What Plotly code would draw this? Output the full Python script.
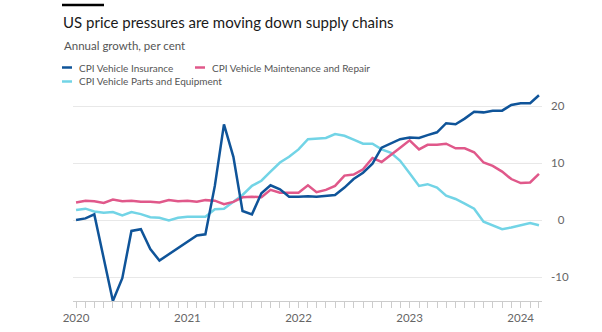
import plotly.graph_objects as go
import pandas as pd

months = pd.date_range("2020-01-01", periods=51, freq="MS")

insurance = [0.0, 0.3, 1.0, -6.5, -14.2, -10.2, -1.9, -1.6, -5.1, -7.1,
             -6.0, -5.0, -3.8, -2.7, -2.5, 6.0, 16.8, 11.1, 1.6, 1.0,
             4.7, 6.1, 5.4, 4.1, 4.1, 4.2, 4.1, 4.2, 4.4, 5.7,
             7.2, 8.3, 9.9, 12.7, 13.4, 14.2, 14.5, 14.4, 14.9, 15.4,
             17.0, 16.8, 17.8, 19.0, 18.9, 19.2, 19.2, 20.2, 20.5, 20.5,
             21.9]
maintenance = [3.1, 3.4, 3.3, 3.0, 3.6, 3.3, 3.4, 3.2, 3.2, 3.1,
               3.5, 3.3, 3.4, 3.2, 3.5, 3.4, 2.8, 3.2, 4.0, 4.1,
               4.0, 5.3, 4.8, 4.8, 4.8, 6.1, 4.9, 5.3, 6.0, 7.8,
               8.0, 8.9, 10.9, 10.2, 11.4, 12.7, 14.0, 12.4, 13.2, 13.2,
               13.4, 12.6, 12.6, 11.9, 10.1, 9.5, 8.5, 7.2, 6.5, 6.6,
               8.1]
parts = [1.75, 2.0, 1.5, 1.3, 1.4, 0.8, 1.4, 1.05, 0.5, 0.4,
         -0.05, 0.4, 0.6, 0.6, 0.6, 1.9, 2.0, 3.2, 4.4, 6.0,
         6.9, 8.5, 10.1, 11.1, 12.4, 14.2, 14.3, 14.4, 15.1, 14.8,
         14.1, 13.4, 13.4, 12.4, 11.8, 10.4, 8.2, 6.0, 6.3, 5.7,
         4.3, 3.7, 2.9, 2.0, -0.3, -1.0, -1.6, -1.3, -0.9, -0.5,
         -0.9]

series_names = ["CPI Vehicle Insurance", "CPI Vehicle Maintenance and Repair",
                "CPI Vehicle Parts and Equipment"]
series_values = [insurance, maintenance, parts]
colors = ["#0f5499", "#e0588a", "#72d4e6"]

y_tickvals = [-10, 0, 10, 20]
y_ticktext = ["-10", "\u20070", "10", "20"]
x_tickvals = ["2020-01-01", "2021-01-01", "2022-01-01", "2023-01-01", "2024-01-01"]
x_ticktext = ["2020", "2021", "2022", "2023", "2024"]

title = "US price pressures are moving down supply chains"
subtitle = "Annual growth, per cent"

W, H = 602, 332
L, R, T, B = 73, 60, 89, 31
PW, PH = W - L - R, H - T - B

def px(x):
    return (x - L) / PW

def py(y):
    return 1 - (y - T) / PH

FONT = "Lato"

fig = go.Figure()
# draw order: parts, maintenance, insurance on top
for idx in [2, 1, 0]:
    fig.add_trace(go.Scatter(x=months, y=series_values[idx], mode="lines",
                             line=dict(color=colors[idx], width=2.5),
                             name=series_names[idx], showlegend=False))

shapes = [dict(type="line", xref="paper", yref="paper",
               x0=px(62), x1=px(104), y0=py(5), y1=py(5),
               line=dict(color="#000000", width=2.5))]
annotations = [
    dict(text=title, xref="paper", yref="paper", x=px(61), y=py(21.5),
         xanchor="left", yanchor="middle", showarrow=False,
         font=dict(family=FONT, size=15, color="#1a1a1a")),
    dict(text=subtitle, xref="paper", yref="paper", x=px(62), y=py(45.5),
         xanchor="left", yanchor="middle", showarrow=False,
         font=dict(family=FONT, size=11.5, color="#555555")),
]
legend_pos = [(62, 67.5), (195, 67.5), (62, 81.5)]
for name, col, (lx, ly) in zip(series_names, colors, legend_pos):
    shapes.append(dict(type="line", xref="paper", yref="paper",
                       x0=px(lx), x1=px(lx + 10), y0=py(ly), y1=py(ly),
                       line=dict(color=col, width=2.5)))
    annotations.append(dict(text=name, xref="paper", yref="paper",
                            x=px(lx + 15), y=py(ly), xanchor="left",
                            yanchor="middle", showarrow=False,
                            font=dict(family=FONT, size=10, color="#555555")))

fig.update_layout(
    width=W, height=H,
    margin=dict(l=L, r=R, t=T, b=B, pad=0, autoexpand=False),
    paper_bgcolor="white", plot_bgcolor="white",
    showlegend=False,
    shapes=shapes, annotations=annotations,
    font=dict(family=FONT, color="#666666", size=11.5),
    xaxis=dict(
        type="date", automargin=False,
        range=["2019-12-22", "2024-03-11"],
        tickvals=x_tickvals, ticktext=x_ticktext,
        ticks="outside", ticklen=6, tickcolor="#cccccc", tickwidth=1,
        showline=True, linecolor="#cccccc", linewidth=1,
        showgrid=False, zeroline=False,
        minor=dict(dtick="M1", tick0="2020-01-01", ticks="outside",
                   ticklen=6, tickcolor="#cccccc", tickwidth=1, showgrid=False),
        tickfont=dict(size=11.5, color="#666666"),
    ),
    yaxis=dict(
        side="right", automargin=False,
        range=[-14.2, 23],
        tickvals=y_tickvals, ticktext=y_ticktext,
        showgrid=True, gridcolor="#e8e8e8", gridwidth=1,
        zeroline=False, showline=False, ticks="",
        ticklabelstandoff=8,
        tickfont=dict(size=11.5, color="#666666"),
    ),
)

fig.write_html("out.html")
